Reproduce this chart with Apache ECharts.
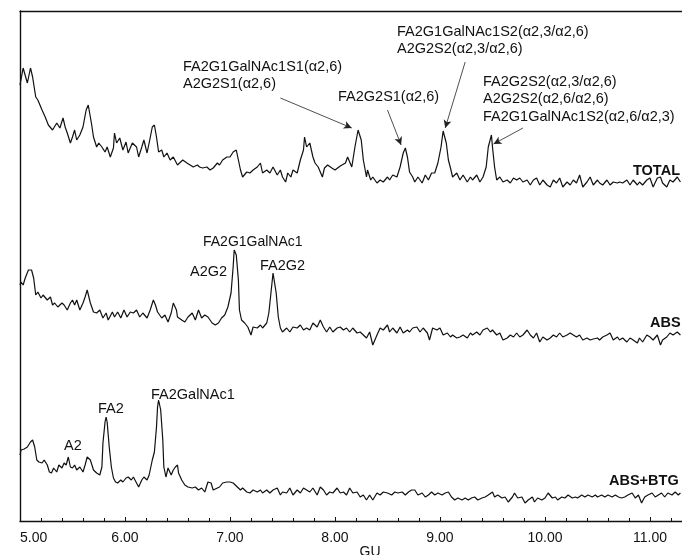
<!DOCTYPE html>
<html>
<head>
<meta charset="utf-8">
<script src="https://cdn.jsdelivr.net/npm/echarts@6/dist/echarts.min.js"></script>
<style>
  html, body { margin: 0; padding: 0; background: #fff; }
  #chart { width: 682px; height: 555px; }
</style>
</head>
<body>
<div id="chart"></div>
<script>
// GU values and relative intensities
const total = [
  [5.00,115],[5.03,132],[5.07,117],[5.10,132],[5.12,123],[5.15,103],[5.17,100],[5.21,90],[5.24,83],[5.27,75],
  [5.31,70],[5.35,77],[5.38,72],[5.41,82],[5.43,73],[5.45,67],[5.48,57],[5.50,63],[5.52,70],[5.54,60],
  [5.57,65],[5.60,73],[5.63,90],[5.65,95],[5.68,77],[5.70,63],[5.73,53],[5.75,57],[5.78,53],[5.81,48],
  [5.83,53],[5.86,43],[5.89,52],[5.90,67],[5.92,57],[5.95,62],[5.98,50],[6.01,58],[6.03,47],[6.07,57],
  [6.08,58],[6.11,53],[6.13,43],[6.16,53],[6.18,60],[6.21,47],[6.23,57],[6.26,73],[6.28,75],[6.30,63],
  [6.32,48],[6.35,50],[6.37,43],[6.40,47],[6.43,40],[6.46,43],[6.50,35],[6.52,37],[6.55,40],[6.59,37],
  [6.62,35],[6.65,33],[6.69,35],[6.71,33],[6.74,32],[6.78,33],[6.81,30],[6.84,32],[6.88,37],[6.90,35],
  [6.93,40],[6.97,43],[7.00,43],[7.03,48],[7.06,50],[7.08,40],[7.10,30],[7.12,23],[7.16,28],[7.19,27],
  [7.22,30],[7.26,33],[7.29,37],[7.31,27],[7.35,30],[7.38,27],[7.41,33],[7.45,25],[7.48,30],[7.50,23],
  [7.53,18],[7.55,27],[7.58,23],[7.60,30],[7.64,27],[7.67,40],[7.70,50],[7.71,63],[7.73,53],[7.76,57],
  [7.79,43],[7.81,37],[7.84,33],[7.88,23],[7.90,32],[7.93,35],[7.97,32],[8.00,30],[8.05,34],[8.10,37],
  [8.12,43],[8.16,33],[8.19,53],[8.22,70],[8.25,60],[8.27,40],[8.30,23],[8.31,30],[8.34,20],[8.36,23],
  [8.40,17],[8.43,20],[8.46,18],[8.50,23],[8.52,20],[8.55,25],[8.59,23],[8.62,33],[8.65,47],[8.67,52],
  [8.69,43],[8.71,28],[8.74,23],[8.76,18],[8.79,23],[8.83,17],[8.86,25],[8.89,20],[8.92,27],[8.95,27],
  [8.98,37],[9.01,53],[9.03,69],[9.06,57],[9.08,40],[9.10,32],[9.12,23],[9.16,27],[9.19,20],[9.22,25],
  [9.26,18],[9.29,23],[9.31,20],[9.35,25],[9.38,18],[9.41,23],[9.44,33],[9.46,53],[9.49,65],[9.50,53],
  [9.52,33],[9.54,20],[9.57,23],[9.60,18],[9.64,20],[9.67,17],[9.70,22],[9.73,20],[9.76,22],[9.79,18],
  [9.83,20],[9.86,15],[9.89,20],[9.92,22],[9.95,15],[9.98,20],[10.02,15],[10.05,13],[10.08,20],[10.11,17],
  [10.14,22],[10.17,13],[10.21,18],[10.24,15],[10.27,20],[10.30,17],[10.33,25],[10.36,13],[10.40,18],[10.43,23],
  [10.46,15],[10.50,20],[10.52,17],[10.55,15],[10.59,20],[10.62,15],[10.65,18],[10.69,17],[10.71,18],[10.74,17],
  [10.78,20],[10.81,15],[10.84,20],[10.88,15],[10.90,18],[10.93,15],[10.97,20],[11.00,22],[11.03,13],[11.07,22],
  [11.10,23],[11.12,17],[11.16,13],[11.19,20],[11.22,18],[11.26,23],[11.29,18]
];

const abs = [
  [5.00,65],[5.01,68],[5.03,65],[5.05,72],[5.08,80],[5.11,80],[5.13,72],[5.15,55],[5.17,58],[5.20,52],
  [5.22,55],[5.26,50],[5.29,53],[5.31,45],[5.33,47],[5.36,43],[5.40,47],[5.42,45],[5.45,40],[5.48,47],
  [5.50,50],[5.52,45],[5.54,50],[5.57,40],[5.60,47],[5.62,53],[5.64,60],[5.67,47],[5.70,38],[5.73,37],
  [5.76,40],[5.79,32],[5.82,37],[5.84,30],[5.88,38],[5.90,33],[5.93,38],[5.96,32],[5.99,40],[6.02,33],
  [6.05,38],[6.08,37],[6.11,40],[6.14,33],[6.17,37],[6.21,32],[6.24,40],[6.27,50],[6.29,45],[6.31,38],
  [6.35,32],[6.38,35],[6.41,28],[6.44,37],[6.46,47],[6.49,40],[6.50,33],[6.54,30],[6.57,28],[6.60,33],
  [6.64,37],[6.67,30],[6.70,40],[6.73,32],[6.76,35],[6.79,33],[6.83,27],[6.86,25],[6.89,27],[6.92,32],
  [6.95,35],[6.98,43],[7.01,57],[7.03,83],[7.04,100],[7.06,95],[7.08,70],[7.09,40],[7.11,30],[7.14,27],
  [7.17,23],[7.20,15],[7.22,23],[7.26,22],[7.29,25],[7.31,22],[7.35,27],[7.37,37],[7.39,57],[7.41,77],
  [7.42,75],[7.44,57],[7.46,33],[7.48,22],[7.50,18],[7.54,22],[7.57,18],[7.60,23],[7.64,22],[7.67,25],
  [7.70,20],[7.73,22],[7.76,20],[7.79,27],[7.83,23],[7.86,30],[7.89,23],[7.92,18],[7.95,23],[7.98,18],
  [8.02,22],[8.05,23],[8.08,20],[8.11,22],[8.14,18],[8.17,22],[8.21,17],[8.24,18],[8.27,15],[8.30,12],
  [8.33,18],[8.36,5],[8.40,15],[8.43,22],[8.46,20],[8.50,25],[8.52,18],[8.55,22],[8.59,17],[8.62,23],
  [8.65,17],[8.69,20],[8.71,18],[8.74,22],[8.78,23],[8.81,18],[8.84,22],[8.88,17],[8.90,10],[8.93,22],
  [8.97,20],[9.00,22],[9.03,15],[9.07,17],[9.10,13],[9.12,15],[9.16,12],[9.19,13],[9.22,15],[9.26,12],
  [9.29,17],[9.31,15],[9.35,18],[9.38,15],[9.41,20],[9.45,22],[9.48,18],[9.50,20],[9.54,15],[9.57,17],
  [9.60,10],[9.64,12],[9.67,15],[9.70,13],[9.73,17],[9.76,13],[9.79,15],[9.83,20],[9.86,15],[9.89,12],
  [9.92,17],[9.95,8],[9.98,13],[10.02,10],[10.05,12],[10.08,15],[10.11,13],[10.14,17],[10.17,13],[10.21,15],
  [10.24,17],[10.27,15],[10.30,13],[10.33,15],[10.36,10],[10.40,12],[10.43,10],[10.46,11],[10.50,12],[10.52,10],
  [10.55,13],[10.59,15],[10.62,17],[10.65,10],[10.69,13],[10.71,10],[10.74,12],[10.78,8],[10.81,12],[10.84,10],
  [10.88,7],[10.90,12],[10.93,8],[10.97,15],[11.00,13],[11.03,10],[11.07,15],[11.10,5],[11.12,10],[11.16,13],
  [11.19,17],[11.22,15],[11.26,18],[11.29,15]
];

const absBtg = [
  [5.00,45],[5.01,50],[5.04,51],[5.07,53],[5.10,58],[5.12,60],[5.14,53],[5.16,40],[5.18,38],[5.21,37],
  [5.23,40],[5.26,35],[5.28,28],[5.30,27],[5.32,32],[5.35,28],[5.37,35],[5.40,32],[5.42,37],[5.44,35],
  [5.46,43],[5.48,33],[5.50,32],[5.52,35],[5.54,30],[5.57,33],[5.60,28],[5.62,35],[5.64,43],[5.67,40],
  [5.70,30],[5.71,32],[5.73,27],[5.76,25],[5.78,33],[5.79,57],[5.81,78],[5.82,83],[5.83,78],[5.85,53],
  [5.87,33],[5.89,22],[5.91,18],[5.93,17],[5.96,20],[5.98,18],[6.01,22],[6.03,23],[6.06,20],[6.08,23],
  [6.11,17],[6.13,13],[6.16,20],[6.18,23],[6.21,20],[6.23,25],[6.26,40],[6.28,48],[6.30,73],[6.31,93],
  [6.32,100],[6.34,90],[6.36,60],[6.37,33],[6.39,23],[6.41,32],[6.44,25],[6.46,30],[6.48,33],[6.50,35],
  [6.51,27],[6.54,20],[6.57,15],[6.60,13],[6.64,12],[6.67,13],[6.70,10],[6.73,12],[6.76,8],[6.79,18],
  [6.82,17],[6.84,10],[6.88,12],[6.90,13],[6.93,17],[6.97,18],[7.00,18],[7.03,17],[7.07,13],[7.10,10],
  [7.12,12],[7.16,8],[7.19,7],[7.22,10],[7.26,8],[7.29,10],[7.31,7],[7.35,10],[7.38,7],[7.41,10],
  [7.45,12],[7.48,5],[7.50,8],[7.54,7],[7.57,12],[7.60,5],[7.64,10],[7.67,7],[7.70,12],[7.73,10],
  [7.76,8],[7.79,12],[7.83,5],[7.86,13],[7.89,10],[7.92,5],[7.95,8],[7.98,7],[8.02,12],[8.05,7],
  [8.08,8],[8.11,5],[8.14,12],[8.17,7],[8.21,8],[8.24,3],[8.27,5],[8.30,0],[8.33,5],[8.36,0],
  [8.40,7],[8.43,5],[8.46,8],[8.50,7],[8.54,5],[8.57,8],[8.60,7],[8.64,8],[8.67,5],[8.70,8],
  [8.73,10],[8.76,10],[8.79,5],[8.83,7],[8.86,3],[8.89,5],[8.92,8],[8.95,5],[8.98,7],[9.02,5],
  [9.05,7],[9.08,8],[9.11,3],[9.14,0],[9.17,2],[9.21,0],[9.24,2],[9.27,0],[9.30,2],[9.33,3],
  [9.36,0],[9.40,2],[9.43,3],[9.46,5],[9.50,8],[9.52,3],[9.55,5],[9.59,2],[9.62,3],[9.65,-2],
  [9.69,3],[9.71,7],[9.74,2],[9.78,3],[9.81,-3],[9.84,0],[9.88,3],[9.90,-2],[9.93,2],[9.97,0],
  [10.00,2],[10.03,7],[10.07,2],[10.10,3],[10.12,0],[10.16,3],[10.19,2],[10.22,5],[10.26,2],[10.29,3],
  [10.31,2],[10.35,5],[10.38,3],[10.41,5],[10.45,3],[10.48,5],[10.50,3],[10.54,5],[10.57,3],[10.60,5],
  [10.64,3],[10.67,5],[10.70,3],[10.73,2],[10.76,3],[10.79,5],[10.83,7],[10.86,2],[10.89,5],[10.92,-3],
  [10.95,3],[10.98,5],[11.02,7],[11.05,3],[11.08,5],[11.11,7],[11.14,3],[11.17,7],[11.21,5],[11.24,8],
  [11.27,5],[11.29,7]
];

// arrows on the TOTAL trace: [from, to] in [GU, intensity]
const arrows = [
  [[7.48, 102], [8.16, 72]],
  [[8.50, 90], [8.63, 55]],
  [[9.24, 138], [9.05, 72]],
  [[9.79, 72], [9.51, 56]]
];

const xTicks = { min: 5, max: 11.305, interval: 1 };
const FONT = '"Liberation Sans", Arial, Helvetica, sans-serif';

const chart = echarts.init(document.getElementById('chart'), null, { renderer: 'canvas' });

const traceGrid = (top, height) => ({ left: 20, right: 0, top: top, height: height, outerBoundsMode: 'none' });
const hiddenX = (i) => ({ gridIndex: i, type: 'value', min: xTicks.min, max: xTicks.max, show: false });
const hiddenY = (i, min, max) => ({ gridIndex: i, type: 'value', min: min, max: max, show: false });

function trace(name, data, idx, extra) {
  return Object.assign({
    name: name, type: 'line', xAxisIndex: idx + 1, yAxisIndex: idx,
    data: data, showSymbol: false, symbol: 'none', clip: false, silent: true,
    lineStyle: { color: '#111', width: 1.2 }
  }, extra || {});
}

function txt(text, left, top, style) {
  return {
    type: 'text', left: left, top: top, silent: true,
    style: Object.assign({ text: text, fill: '#111', font: '14.5px ' + FONT, lineHeight: 17.5 }, style || {})
  };
}

chart.setOption({
  animation: false,
  backgroundColor: '#fff',
  grid: [
    { left: 20, right: 0, top: 11, bottom: 34, outerBoundsMode: 'none' },
    traceGrid(11, 189),
    traceGrid(200, 150),
    traceGrid(350, 160)
  ],
  xAxis: [
    {
      gridIndex: 0, type: 'value', min: xTicks.min, max: xTicks.max, interval: xTicks.interval,
      name: 'GU', nameLocation: 'middle', nameGap: 24, nameMoveOverlap: false,
      nameTextStyle: { color: '#111', fontFamily: FONT, fontSize: 14, padding: [0, 0, 0, 38] },
      axisLine: { lineStyle: { color: '#111', width: 1.4 } },
      axisTick: { inside: true, length: 4, lineStyle: { color: '#111' } },
      minorTick: { show: true, splitNumber: 5, length: 3, lineStyle: { color: '#111' } },
      axisLabel: { color: '#111', fontFamily: FONT, fontSize: 14, margin: 10,
        showMaxLabel: false, alignMinLabel: 'left',
        formatter: (v) => v.toFixed(2) },
      splitLine: { show: false }
    },
    {
      gridIndex: 0, type: 'value', position: 'top', min: xTicks.min, max: xTicks.max,
      axisLine: { lineStyle: { color: '#111', width: 1.4 } },
      axisTick: { show: false }, axisLabel: { show: false }, splitLine: { show: false }
    },
    hiddenX(1), hiddenX(2), hiddenX(3)
  ],
  yAxis: [
    {
      gridIndex: 0, type: 'value', min: 0, max: 1,
      axisLine: { show: true, lineStyle: { color: '#111', width: 1.4 } },
      axisTick: { show: false }, axisLabel: { show: false }, splitLine: { show: false }
    },
    hiddenY(1, 0, 189),
    hiddenY(2, 0, 150),
    hiddenY(3, -10, 150)
  ],
  series: [
    trace('TOTAL', total, 1, {
      markLine: {
        silent: true, symbol: ['none', 'arrow'], symbolSize: [6, 8],
        label: { show: false },
        lineStyle: { color: '#222', width: 0.8, type: 'solid' },
        data: arrows.map((a) => [{ coord: a[0] }, { coord: a[1] }])
      }
    }),
    trace('ABS', abs, 2),
    trace('ABS+BTG', absBtg, 3)
  ],
  graphic: [
    txt('FA2G1GalNAc1S1(α2,6)\nA2G2S1(α2,6)', 183, 58),
    txt('FA2G2S1(α2,6)', 338, 88),
    txt('FA2G1GalNAc1S2(α2,3/α2,6)\nA2G2S2(α2,3/α2,6)', 397, 23),
    txt('FA2G2S2(α2,3/α2,6)\nA2G2S2(α2,6/α2,6)\nFA2G1GalNAc1S2(α2,6/α2,3)', 483, 73),
    txt('TOTAL', 633, 162, { font: 'bold 14.5px ' + FONT }),
    txt('FA2G1GalNAc1', 203, 233, { font: '14px ' + FONT }),
    txt('A2G2', 190, 263),
    txt('FA2G2', 260, 257),
    txt('ABS', 650, 314, { font: 'bold 14.5px ' + FONT }),
    txt('FA2GalNAc1', 151, 386),
    txt('FA2', 98, 400),
    txt('A2', 64, 437),
    txt('ABS+BTG', 609, 472, { font: 'bold 14.5px ' + FONT })
  ]
});
</script>
</body>
</html>
